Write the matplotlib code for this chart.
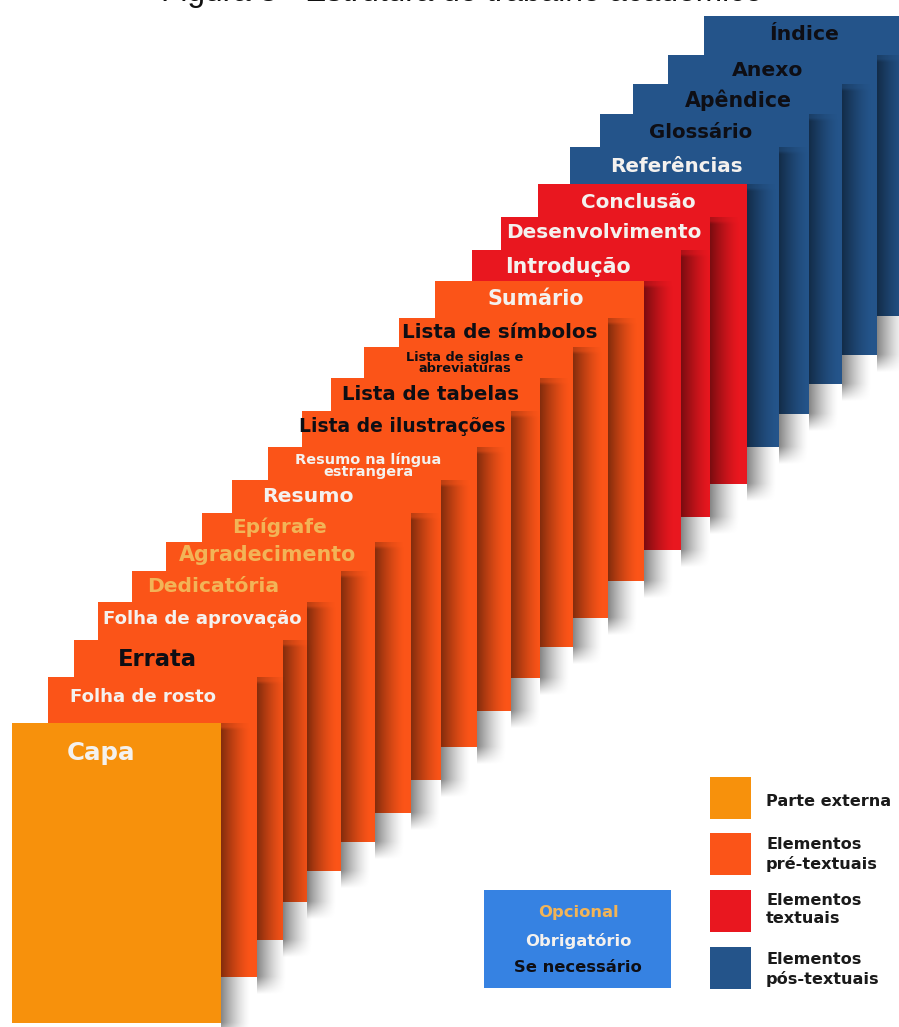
import numpy as np
import matplotlib
matplotlib.use("Agg")
import matplotlib.pyplot as plt
from matplotlib.patches import Rectangle

# ---------------- data ----------------
labels = ["Capa", "Folha de rosto", "Errata", "Folha de aprovação", "Dedicatória",
          "Agradecimento", "Epígrafe", "Resumo", "Resumo na língua\nestrangera",
          "Lista de ilustrações", "Lista de tabelas", "Lista de siglas e\nabreviaturas",
          "Lista de símbolos", "Sumário", "Introdução", "Desenvolvimento", "Conclusão",
          "Referências", "Glossário", "Apêndice", "Anexo", "Índice"]
groups = (["Parte externa"] + ["Elementos pré-textuais"] * 13 +
          ["Elementos textuais"] * 3 + ["Elementos pós-textuais"] * 5)
status = ["Obrigatório", "Obrigatório", "Se necessário", "Obrigatório", "Opcional",
          "Opcional", "Opcional", "Obrigatório", "Obrigatório", "Se necessário",
          "Se necessário", "Se necessário", "Se necessário", "Obrigatório",
          "Obrigatório", "Obrigatório", "Obrigatório", "Obrigatório",
          "Se necessário", "Se necessário", "Se necessário", "Se necessário"]
legend_groups = ["Parte externa", "Elementos pré-textuais", "Elementos textuais",
                 "Elementos pós-textuais"]
legend_labels = ["Parte externa", "Elementos\npré-textuais", "Elementos\ntextuais",
                 "Elementos\npós-textuais"]
status_order = ["Opcional", "Obrigatório", "Se necessário"]
title = "Figura 3 - Estrutura do trabalho acadêmico"

# ---------------- style / layout ----------------
group_colors = {"Parte externa": "#F7910C", "Elementos pré-textuais": "#FB5418",
                "Elementos textuais": "#E9171F", "Elementos pós-textuais": "#24548A"}
status_colors = {"Opcional": "#F2B457", "Obrigatório": "#F4F1EE", "Se necessário": "#0E0E14"}

page_left = [12, 48, 74, 98, 132, 166, 202, 232, 268, 302, 331, 364, 399, 435, 472,
             501, 538, 570, 600, 633, 668, 704]
page_top = [723, 677, 640, 602, 571, 542, 513, 480, 447, 411, 378, 347, 318, 281, 250,
            217, 184, 147, 114, 84, 55, 16]
page_w, page_h = 209, 300
text_x = [101, 143, 157, 202, 213, 268, 280, 308, 368, 402, 431, 465, 500, 536, 568,
          604, 638, 676, 701, 738, 768, 804]
text_y = [753, 697, 660, 619, 587, 555, 527, 497, 466, 427, 395, 363, 333, 299, 267,
          232, 202, 166, 133, 100, 70, 35]
text_size = [19, 14, 17.5, 14, 15.7, 16, 15.5, 15.8, 11.2, 14.5, 15.3, 10, 15.4, 16,
             15.9, 15.5, 15.5, 15.4, 15.3, 15.9, 15.8, 15.8]
SCALE = 0.93

FONT = "DejaVu Sans"

fig = plt.figure(figsize=(8.99, 10.27), dpi=100)
ax = fig.add_axes([0, 0, 1, 1])
ax.set_xlim(0, 899)
ax.set_ylim(1027, 0)
ax.axis("off")

# shadow gradient image
SW = 30   # shadow width
SB = 18   # vertical fade below page bottom
def shadow(x0, y0, y1, z):
    nx, ny = 60, 200
    xs = np.linspace(0, 1, nx)
    ys = np.linspace(y0, y1 + SB, ny)
    ax_alpha = (1 - xs) ** 1.4 * 0.48
    vy = np.clip((y1 + SB - ys) / SB, 0, 1)
    vy = np.where(ys < y1, 1.0, vy)
    vtop = np.clip((ys - y0) / 6.0, 0.55, 1.0)
    a = np.outer(vy * vtop, ax_alpha)
    img = np.zeros((ny, nx, 4))
    img[..., 3] = a
    ax.imshow(img, extent=[x0, x0 + SW, y1 + SB, y0], origin="upper",
              interpolation="bilinear", zorder=z, aspect="auto")

n = len(labels)
# draw back to front
for k in range(n - 1, -1, -1):
    z = 10 + (n - k) * 2
    L, T = page_left[k], page_top[k]
    shadow(L + page_w, T, T + page_h, z)
    ax.add_patch(Rectangle((L, T), page_w, page_h, facecolor=group_colors[groups[k]],
                           edgecolor="none", zorder=z + 1))
    ax.text(text_x[k], text_y[k], labels[k], color=status_colors[status[k]],
            fontsize=text_size[k] * SCALE, family=FONT, fontweight="bold",
            ha="center", va="center", linespacing=0.85, zorder=z + 1.5)

ax.set_xlim(0, 899)
ax.set_ylim(1027, 0)

# legend of groups
leg_sq_y = [777, 833, 890, 947]
leg_txt_y = [802, 854.5, 909.5, 969.5]
for g, lab, sy, ty in zip(legend_groups, legend_labels, leg_sq_y, leg_txt_y):
    ax.add_patch(Rectangle((710, sy), 41, 42, facecolor=group_colors[g],
                           edgecolor="none", zorder=100))
    ax.text(766, ty, lab, fontsize=11.6, family=FONT, fontweight="bold",
            color="#1a1a1a", ha="left", va="center", linespacing=1.25, zorder=100)

# status legend box
ax.add_patch(Rectangle((484, 890), 187, 98, facecolor="#3682E2", edgecolor="none",
                       zorder=100))
for s, yy in zip(status_order, [912, 941, 967]):
    ax.text(578, yy, s, fontsize=11.8, family=FONT, fontweight="bold",
            color=status_colors[s], ha="center", va="center", zorder=101)

# cut-off title
fig.text(462 / 899, 1 - 1.0 / 1027, title, fontsize=22.8, family="Liberation Sans",
         ha="center", va="baseline", color="#111111")

fig.savefig("out.png", dpi=100, facecolor="white")
